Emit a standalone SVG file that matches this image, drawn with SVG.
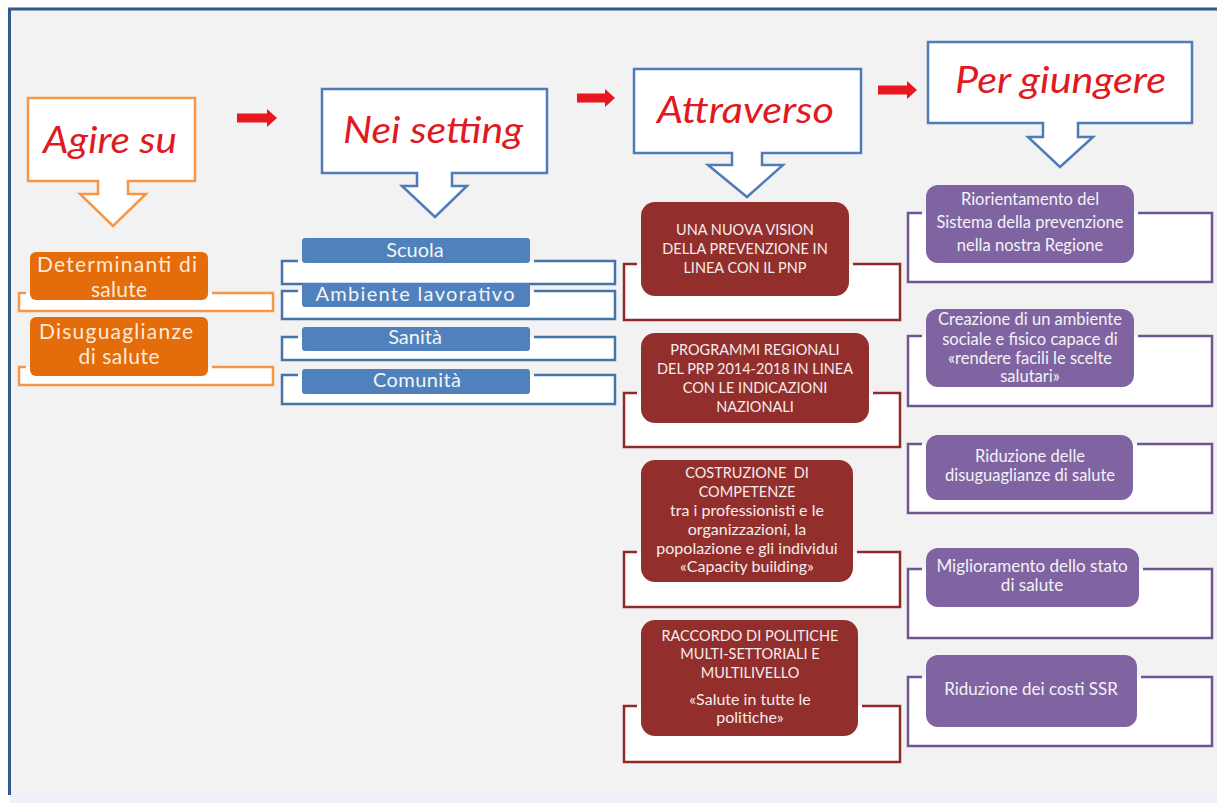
<svg xmlns="http://www.w3.org/2000/svg" width="1217" height="803" viewBox="0 0 1217 803">
<style>
.hdr{font-family:"Lato","Liberation Sans",sans-serif;font-style:italic;font-size:37px;fill:#E01A22;text-anchor:middle}
.t{font-family:"Lato","Liberation Sans",sans-serif;text-anchor:middle}
.or{font-size:21px;fill:#FDEADA}
.bl{font-size:20px;fill:#F4F4F4}
.rd{font-size:14.5px;fill:#F4ECEC}
.rdl{font-size:16px;fill:#F4ECEC}
.pu{font-size:16.5px;fill:#F4F2F7}
.pu2{font-size:17px;fill:#F4F2F7}
.bf{fill:#FFFFFF;stroke:none}
.bo{fill:none;stroke:#F79646;stroke-width:2.5}
.bb{fill:none;stroke:#4673A8;stroke-width:2.5}
.br{fill:none;stroke:#8E2B29;stroke-width:2.5}
.bp{fill:none;stroke:#6E5690;stroke-width:2.5}
.co{fill:#FFFFFF;stroke:#F79646;stroke-width:2.5}
.cb{fill:#FFFFFF;stroke:#4F7CB6;stroke-width:2.5}
.arr{fill:#E8161E}
</style>
<rect x="0" y="0" width="1217" height="803" fill="#FFFFFF"/>
<rect x="10" y="10" width="1207" height="783" fill="#F2F2F2"/>
<rect x="10" y="792" width="1207" height="11" fill="#EEF2F8"/>
<g id="frame">
<line x1="8" y1="9" x2="1217" y2="9" stroke="#2F5A8A" stroke-width="3"/>
<line x1="9.5" y1="8" x2="9.5" y2="795" stroke="#2F5A8A" stroke-width="3"/>
</g>

<g id="h-agire">
<path class="co" d="M28,98 H195 V181 H128 V194 H146 L113,226 L80,194 H98 V181 H28 Z"/>
<text class="hdr" x="110" y="153" textLength="134" lengthAdjust="spacingAndGlyphs">Agire su</text>
</g>
<g id="h-setting">
<path class="cb" d="M322,89 H547 V173 H452 V186 H467 L435,217 L402,186 H417 V173 H322 Z"/>
<text class="hdr" x="433" y="143" textLength="180" lengthAdjust="spacingAndGlyphs">Nei setting</text>
</g>
<g id="h-attraverso">
<path class="cb" d="M634,69 H861 V153 H762 V165 H783 L747,197 L708,165 H732 V153 H634 Z"/>
<text class="hdr" x="745.5" y="123" textLength="177" lengthAdjust="spacingAndGlyphs">Attraverso</text>
</g>
<g id="h-giungere">
<path class="cb" d="M928,42 H1192 V123 H1078 V137 H1093 L1060,167 L1028,137 H1043 V123 H928 Z"/>
<text class="hdr" x="1060.5" y="93" textLength="211" lengthAdjust="spacingAndGlyphs">Per giungere</text>
</g>

<g id="connectors">
<polygon class="arr" points="237,113.5 267,113.5 267,109 277,118 267,127 267,122.5 237,122.5"/>
<polygon class="arr" points="577,93.5 605,93.5 605,89 615,98 605,107 605,102.5 577,102.5"/>
<polygon class="arr" points="878,85.5 907,85.5 907,81 917,90 907,99 907,94.5 878,94.5"/>
</g>

<g id="n-determinanti">
<rect class="bf" x="19" y="293" width="254" height="18"/>
<path class="bo" d="M26,293 H19 V311 H273 V293 H212"/>
<rect x="30" y="252" width="178" height="48" rx="6" fill="#E46C0A"/>
<text class="t or" x="117" y="272" textLength="160">Determinanti di</text>
<text class="t or" x="119" y="297" textLength="56">salute</text>
</g>
<g id="n-disuguaglianze">
<rect class="bf" x="19" y="367" width="254" height="18"/>
<path class="bo" d="M26,367 H19 V385 H273 V367 H212"/>
<rect x="30" y="317" width="178" height="59" rx="6" fill="#E46C0A"/>
<text class="t or" x="116" y="339" textLength="154">Disuguaglianze</text>
<text class="t or" x="119" y="364" textLength="81">di salute</text>
</g>

<g id="n-scuola">
<rect class="bf" x="282" y="261" width="333" height="23"/>
<path class="bb" d="M298,261 H282 V284 H615 V261 H534"/>
<rect x="302" y="238" width="228" height="25" rx="3" fill="#4F81BD"/>
<text class="t bl" x="415" y="257">Scuola</text>
</g>
<g id="n-ambiente">
<rect class="bf" x="282" y="291" width="333" height="28"/>
<path class="bb" d="M298,291 H282 V319 H615 V291 H534"/>
<rect x="302" y="283" width="228" height="24" rx="3" fill="#4F81BD"/>
<text class="t bl" x="415" y="301" textLength="199">Ambiente lavorativo</text>
</g>
<g id="n-sanita">
<rect class="bf" x="282" y="337" width="333" height="23"/>
<path class="bb" d="M298,337 H282 V360 H615 V337 H534"/>
<rect x="302" y="327" width="228" height="24" rx="3" fill="#4F81BD"/>
<text class="t bl" x="415" y="344">Sanità</text>
</g>
<g id="n-comunita">
<rect class="bf" x="282" y="375" width="333" height="29"/>
<path class="bb" d="M298,375 H282 V404 H615 V375 H534"/>
<rect x="302" y="369" width="228" height="25" rx="3" fill="#4F81BD"/>
<text class="t bl" x="417" y="387" textLength="88">Comunità</text>
</g>

<g id="n-vision">
<rect class="bf" x="624" y="264" width="276" height="56"/>
<path class="br" d="M637,264 H624 V320 H900 V264 H853"/>
<rect x="641" y="202" width="208" height="94" rx="14" fill="#922F2D"/>
<text class="t rd" x="745" y="235">UNA NUOVA VISION</text>
<text class="t rd" x="745" y="254">DELLA PREVENZIONE IN</text>
<text class="t rd" x="745" y="273">LINEA CON IL PNP</text>
</g>
<g id="n-programmi">
<rect class="bf" x="624" y="393" width="276" height="54"/>
<path class="br" d="M637,393 H624 V447 H900 V393 H873"/>
<rect x="641" y="333" width="228" height="90" rx="14" fill="#922F2D"/>
<text class="t rd" x="755" y="355">PROGRAMMI REGIONALI</text>
<text class="t rd" x="755" y="374">DEL PRP 2014-2018 IN LINEA</text>
<text class="t rd" x="755" y="393">CON LE INDICAZIONI</text>
<text class="t rd" x="755" y="412">NAZIONALI</text>
</g>
<g id="n-competenze">
<rect class="bf" x="624" y="552" width="276" height="55"/>
<path class="br" d="M637,552 H624 V607 H900 V552 H857"/>
<rect x="641" y="460" width="212" height="122" rx="14" fill="#922F2D"/>
<text class="t rd" x="747" y="478" xml:space="preserve">COSTRUZIONE  DI</text>
<text class="t rd" x="747" y="497">COMPETENZE</text>
<text class="t rdl" x="747" y="516">tra i professionisti e le</text>
<text class="t rdl" x="747" y="535">organizzazioni, la</text>
<text class="t rdl" x="747" y="554">popolazione e gli individui</text>
<text class="t rdl" x="747" y="572">«Capacity building»</text>
</g>
<g id="n-raccordo">
<rect class="bf" x="624" y="706" width="276" height="56"/>
<path class="br" d="M637,706 H624 V762 H900 V706 H862"/>
<rect x="641" y="620" width="217" height="116" rx="14" fill="#922F2D"/>
<text class="t rd" x="750" y="641">RACCORDO DI POLITICHE</text>
<text class="t rd" x="750" y="659">MULTI-SETTORIALI E</text>
<text class="t rd" x="750" y="678">MULTILIVELLO</text>
<text class="t rdl" x="750" y="705">«Salute in tutte le</text>
<text class="t rdl" x="750" y="723">politiche»</text>
</g>

<g id="n-riorientamento">
<rect class="bf" x="908" y="213" width="304" height="69"/>
<path class="bp" d="M922,213 H908 V282 H1212 V213 H1138"/>
<rect x="926" y="185" width="208" height="78" rx="12" fill="#8064A2"/>
<text class="t pu" x="1030" y="205">Riorientamento del</text>
<text class="t pu" x="1030" y="228">Sistema della prevenzione</text>
<text class="t pu" x="1030" y="251">nella nostra Regione</text>
</g>
<g id="n-creazione">
<rect class="bf" x="908" y="336" width="304" height="70"/>
<path class="bp" d="M922,336 H908 V406 H1212 V336 H1138"/>
<rect x="926" y="309" width="208" height="78" rx="12" fill="#8064A2"/>
<text class="t pu" x="1030" y="325">Creazione di un ambiente</text>
<text class="t pu" x="1030" y="345">sociale e fisico capace di</text>
<text class="t pu" x="1030" y="364">«rendere facili le scelte</text>
<text class="t pu" x="1030" y="382">salutari»</text>
</g>
<g id="n-riduzione-dis">
<rect class="bf" x="908" y="444" width="304" height="69"/>
<path class="bp" d="M922,444 H908 V513 H1212 V444 H1137"/>
<rect x="926" y="435" width="207" height="65" rx="12" fill="#8064A2"/>
<text class="t pu" x="1030" y="462">Riduzione delle</text>
<text class="t pu" x="1030" y="481">disuguaglianze di salute</text>
</g>
<g id="n-miglioramento">
<rect class="bf" x="908" y="569" width="304" height="69"/>
<path class="bp" d="M922,569 H908 V638 H1212 V569 H1143"/>
<rect x="926" y="548" width="213" height="59" rx="12" fill="#8064A2"/>
<text class="t pu2" x="1032" y="572">Miglioramento dello stato</text>
<text class="t pu2" x="1032" y="591">di salute</text>
</g>
<g id="n-costi">
<rect class="bf" x="908" y="677" width="304" height="69"/>
<path class="bp" d="M922,677 H908 V746 H1212 V677 H1141"/>
<rect x="926" y="655" width="211" height="72" rx="12" fill="#8064A2"/>
<text class="t pu2" x="1031" y="695">Riduzione dei costi SSR</text>
</g>
</svg>
